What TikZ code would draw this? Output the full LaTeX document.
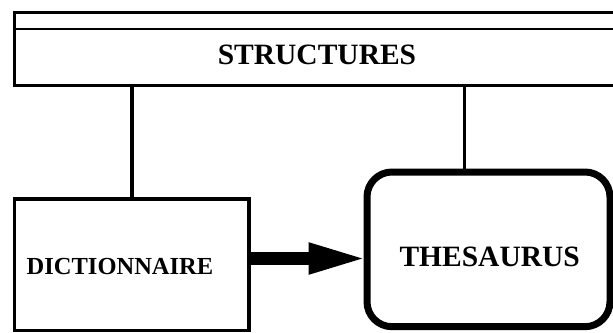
\documentclass[tikz,border=0pt]{standalone}
\usepackage{fontspec}
\setmainfont{Liberation Serif}
\usetikzlibrary{arrows.meta}
\begin{document}
\begin{tikzpicture}[x=1pt,y=-1pt,>={Triangle[length=60pt,width=28pt]},
	boite/.style={draw,line width=3.5pt,inner sep=0pt},
	arrondi/.style={draw,line width=7pt,rounded corners=25pt,inner sep=0pt},
	titre/.style={inner sep=0pt,font=\fontsize{29.5}{30}\selectfont\bfseries},
	lien/.style={line width=3.3pt}]
	\useasboundingbox (0,0) rectangle (613,332);
	\clip (0,0) rectangle (613,332);
	
	% cadre du haut
	\node[boite,line width=3pt,minimum width=625.5pt,minimum height=73.2pt] (structures) at (327.25,49.1) {};
	\draw[line width=1.7pt] ([yshift=-18pt]structures.north west)--([yshift=-18pt]structures.north east);
	\node[titre] (tstructures) at (317,55) {STRUCTURES};
	
	% boites du bas
	\node[boite,minimum width=234.3pt,minimum height=131.5pt] (dictionnaire) at (131.85,264.75) {};
	\node[arrondi,minimum width=243pt,minimum height=154.7pt] (thesaurus) at (488.5,249.35) {};
	\node[titre,font=\fontsize{24.5}{25}\selectfont\bfseries] (tdictionnaire) at (120,267) {DICTIONNAIRE};
	\node[titre] (tthesaurus) at (489.7,257) {THESAURUS};
	
	\coordinate (pied) at (464.2,0);
	\coordinate (fleche) at (0,258.5);
	\draw[lien] (structures.south -| dictionnaire.north)--(dictionnaire.north);
	\draw[lien] (structures.south -| pied)--(thesaurus.north -| pied);
	\draw[line width=13pt,->,shorten >=-5pt] (dictionnaire.east |- fleche)--(thesaurus.west |- fleche);
	
\end{tikzpicture}
\end{document}
